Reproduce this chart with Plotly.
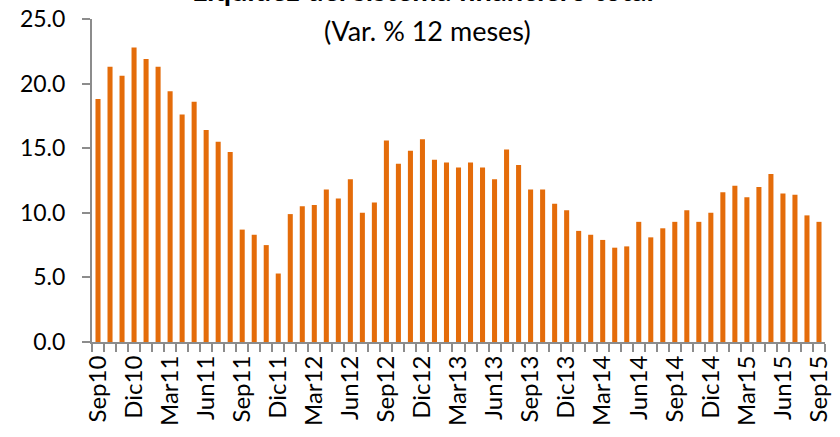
import plotly.graph_objects as go

months = [
    "Sep10", "Oct10", "Nov10", "Dic10", "Ene11", "Feb11", "Mar11", "Abr11", "May11", "Jun11",
    "Jul11", "Ago11", "Sep11", "Oct11", "Nov11", "Dic11", "Ene12", "Feb12", "Mar12", "Abr12",
    "May12", "Jun12", "Jul12", "Ago12", "Sep12", "Oct12", "Nov12", "Dic12", "Ene13", "Feb13",
    "Mar13", "Abr13", "May13", "Jun13", "Jul13", "Ago13", "Sep13", "Oct13", "Nov13", "Dic13",
    "Ene14", "Feb14", "Mar14", "Abr14", "May14", "Jun14", "Jul14", "Ago14", "Sep14", "Oct14",
    "Nov14", "Dic14", "Ene15", "Feb15", "Mar15", "Abr15", "May15", "Jun15", "Jul15", "Ago15",
    "Sep15",
]

liquidez = [
    18.8, 21.3, 20.6, 22.8, 21.9, 21.3, 19.4, 17.6, 18.6, 16.4,
    15.5, 14.7, 8.7, 8.3, 7.5, 5.3, 9.9, 10.5, 10.6, 11.8,
    11.1, 12.6, 10.0, 10.8, 15.6, 13.8, 14.8, 15.7, 14.1, 13.9,
    13.5, 13.9, 13.5, 12.6, 14.9, 13.7, 11.8, 11.8, 10.7, 10.2,
    8.6, 8.3, 7.9, 7.3, 7.4, 9.3, 8.1, 8.8, 9.3, 10.2,
    9.3, 10.0, 11.6, 12.1, 11.2, 12.0, 13.0, 11.5, 11.4, 9.8,
    9.3,
]

y_ticks = [0, 5, 10, 15, 20, 25]
label_step = 3

title_text = "Liquidez del sistema financiero total"
subtitle_text = "(Var. % 12 meses)"

x_idx = list(range(len(months)))
tick_pos = x_idx[::label_step]
tick_txt = months[::label_step]

FONT = "Lato, Calibri, Carlito, sans-serif"
AXIS_COLOR = "#8c8c8c"

fig = go.Figure()
fig.add_trace(go.Bar(
    x=x_idx,
    y=liquidez,
    marker=dict(color="#E46C0A", line=dict(width=0)),
    hovertext=months,
))

fig.update_layout(
    template="none",
    width=840, height=437,
    margin=dict(l=92, r=15, t=19, b=95, autoexpand=False),
    paper_bgcolor="white",
    plot_bgcolor="white",
    bargap=0.58,
    showlegend=False,
    font=dict(family=FONT, size=24, color="#000000"),
)

fig.update_xaxes(
    automargin=False,
    range=[-0.5, len(months) - 0.5],
    tickmode="array",
    tickvals=tick_pos,
    ticktext=tick_txt,
    tickangle=-90,
    ticks="",
    ticklabelstandoff=2,
    ticklabeloverflow="allow",
    showline=True, linecolor=AXIS_COLOR, linewidth=2,
    showgrid=False, zeroline=False,
    tickfont=dict(family=FONT, size=24, color="#000000"),
    minor=dict(ticks="outside", tick0=0.5, dtick=1, ticklen=8, tickcolor=AXIS_COLOR, tickwidth=2, showgrid=False),
)

fig.update_yaxes(
    automargin=False,
    range=[0, 25],
    tickmode="array",
    tickvals=y_ticks,
    ticktext=[f"{v:.1f}" for v in y_ticks],
    ticks="outside", ticklen=8, tickcolor=AXIS_COLOR, tickwidth=2,
    ticklabelstandoff=12,
    ticklabeloverflow="allow",
    showline=True, linecolor=AXIS_COLOR, linewidth=2,
    showgrid=False, zeroline=False,
    tickfont=dict(family=FONT, size=23, color="#000000"),
)

fig.add_annotation(
    text="<b>" + title_text + "</b>",
    xref="paper", yref="paper", x=0.452, y=1.030,
    xanchor="center", yanchor="bottom", showarrow=False,
    font=dict(family=FONT, size=29, color="#000000"),
)
fig.add_annotation(
    text=subtitle_text,
    xref="paper", yref="paper", x=0.458, y=0.963,
    xanchor="center", yanchor="middle", showarrow=False,
    font=dict(family=FONT, size=27, color="#000000"),
)

fig.write_html(
    "out.html",
    config={"displayModeBar": False},
    post_script="document.body.style.margin='0';",
)
